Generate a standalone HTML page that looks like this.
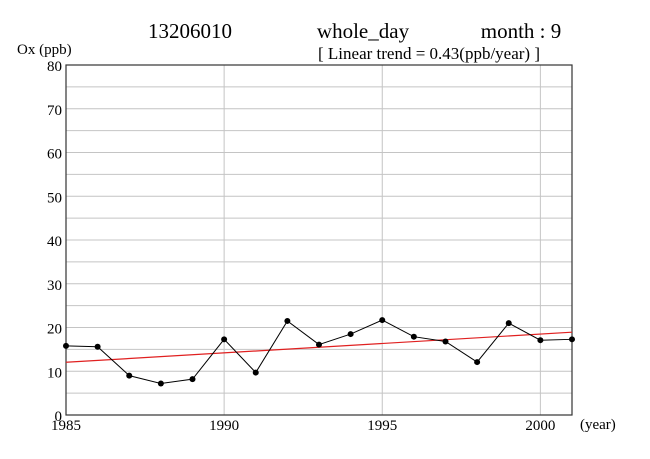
<!DOCTYPE html>
<html><head><meta charset="utf-8"><style>body{margin:0;background:#fff}svg{display:block;font-family:"Liberation Serif",serif}</style></head>
<body>
<svg width="650" height="459" id="c">
<text x="190" y="38" font-size="21" text-anchor="middle">13206010</text>
<text x="363" y="38" font-size="21" text-anchor="middle">whole_day</text>
<text x="521" y="38" font-size="21" text-anchor="middle">month : 9</text>
<text x="429" y="59" font-size="17" text-anchor="middle">[ Linear trend = 0.43(ppb/year) ]</text>
<text x="17" y="54" font-size="15">Ox (ppb)</text>
<text x="580" y="429" font-size="15">(year)</text>
<g id="grid"></g><g id="marks"></g>
</svg>
<script>
const years=[1985,1986,1987,1988,1989,1990,1991,1992,1993,1994,1995,1996,1997,1998,1999,2000,2001];
const oxValues=[15.8,15.6,9.0,7.2,8.2,17.3,9.7,21.5,16.1,18.5,21.7,17.9,16.8,12.1,21.0,17.1,17.3];
const trendStart=12.05;
const trendSlope=0.43;
const yTicks=[0,10,20,30,40,50,60,70,80];
const xTicks=[1985,1990,1995,2000];
const L=66,R=572,T=65,B=415;
const X=v=>L+(v-1985)/(2001-1985)*(R-L);
const Y=v=>B-v/80*(B-T);
const NS='http://www.w3.org/2000/svg';
function mk(tag,at,parent){const e=document.createElementNS(NS,tag);for(const k in at)e.setAttribute(k,at[k]);parent.appendChild(e);return e;}
const g=document.getElementById('grid'),m=document.getElementById('marks');
for(let v=5;v<80;v+=5){const l=mk('line',{x1:L,x2:R,y1:Y(v),y2:Y(v),stroke:'#c4c4c4','stroke-width':1},g);

}
yTicks.forEach(v=>{const t=mk('text',{x:62,y:Y(v)+6,'font-size':15,'text-anchor':'end'},g);t.textContent=v;

});
xTicks.forEach(v=>{if(v>1985&&v<2001){const l=mk('line',{x1:X(v),x2:X(v),y1:T,y2:B,stroke:'#c4c4c4','stroke-width':1},g);

}
const t=mk('text',{x:X(v),y:430,'font-size':15,'text-anchor':'middle'},g);t.textContent=v;

});
const fr=mk('rect',{x:L,y:T,width:R-L,height:B-T,fill:'none',stroke:'#333','stroke-width':1.2},g);


const tl=mk('line',{x1:X(1985),y1:Y(trendStart),x2:X(2001),y2:Y(trendStart+trendSlope*16),stroke:'#e02020','stroke-width':1.2},m);


const pl=mk('polyline',{points:years.map((y,i)=>X(y)+','+Y(oxValues[i])).join(' '),fill:'none',stroke:'#000','stroke-width':1},m);


years.forEach((y,i)=>{const c=mk('circle',{cx:X(y),cy:Y(oxValues[i]),r:3,fill:'#000'},m);

});
</script>
</body></html>
